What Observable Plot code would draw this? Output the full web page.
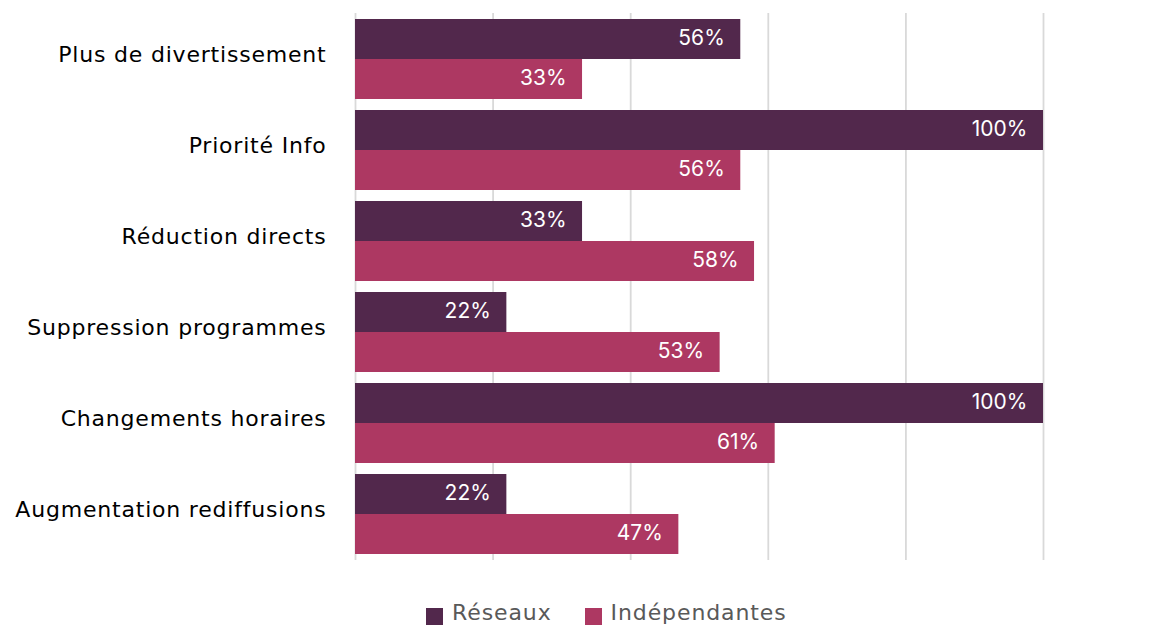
<!DOCTYPE html>
<html>
<head>
<meta charset="utf-8">
<script src="https://cdn.jsdelivr.net/npm/d3@7"></script>
<script src="https://cdn.jsdelivr.net/npm/@observablehq/plot@0.6"></script>
<style>
  body { margin: 0; background: #fff; font-family: "DejaVu Sans", sans-serif; }
  #legend { display: flex; align-items: center; margin-left: 426px; margin-top: 4px; height: 36px; color: #595959; font-size: 22px; letter-spacing: 0.9px; }
  #legend .item { display: flex; align-items: center; margin-right: 33px; }
  #legend .sw { width: 17px; height: 17px; margin-right: 9px; margin-top: 8px; }
  svg g[aria-label="y-axis tick label"] text { letter-spacing: 0.8px; }
</style>
</head>
<body>
<div id="chart"></div>
<div id="legend"></div>
<script>
const categories = [
  "Plus de divertissement",
  "Priorité Info",
  "Réduction directs",
  "Suppression programmes",
  "Changements horaires",
  "Augmentation rediffusions"
];
const series = ["Réseaux", "Indépendantes"];
const reseaux = [0.56, 1.00, 0.33, 0.22, 1.00, 0.22];
const independantes = [0.33, 0.56, 0.58, 0.53, 0.61, 0.47];
const colors = ["#52284c", "#ad3862"];
const gridTicks = [0, 0.2, 0.4, 0.6, 0.8, 1.0];

const rowsR = categories.map((c, i) => ({category: c, series: series[0], value: reseaux[i]}));
const rowsI = categories.map((c, i) => ({category: c, series: series[1], value: independantes[i]}));
const fmt = d3.format(".0%");

const chart = Plot.plot({
  width: 1167,
  height: 590,
  marginLeft: 355,
  marginRight: 124,
  marginTop: 13,
  marginBottom: 30,
  style: {fontFamily: "'DejaVu Sans', sans-serif", background: "#fff"},
  x: {domain: [0, 1], axis: null},
  y: {domain: categories, paddingInner: 0.124, paddingOuter: 0.058, label: null},
  color: {domain: series, range: colors},
  marks: [
    Plot.ruleX(gridTicks, {stroke: "#d9d9d9", strokeWidth: 1.8}),
    Plot.axisY({tickSize: 0, tickPadding: 29, fontSize: 22, label: null, fill: "#000", dy: -5}),
    Plot.barX(rowsR, {y: "category", x: "value", fill: "series", insetBottom: 40}),
    Plot.barX(rowsI, {y: "category", x: "value", fill: "series", insetTop: 40}),
    Plot.text(rowsR, {y: "category", x: "value", text: d => fmt(d.value), textAnchor: "end", dx: -16, dy: -21, fill: "#fff", fontSize: 21, fontFamily: "Inter"}),
    Plot.text(rowsI, {y: "category", x: "value", text: d => fmt(d.value), textAnchor: "end", dx: -16, dy: 19, fill: "#fff", fontSize: 21, fontFamily: "Inter"})
  ]
});
document.getElementById("chart").appendChild(chart);

const legend = document.getElementById("legend");
series.forEach((s, i) => {
  const item = document.createElement("div");
  item.className = "item";
  const sw = document.createElement("span");
  sw.className = "sw";
  sw.style.background = colors[i];
  const t = document.createElement("span");
  t.textContent = s;
  item.appendChild(sw);
  item.appendChild(t);
  legend.appendChild(item);
});
</script>
</body>
</html>
